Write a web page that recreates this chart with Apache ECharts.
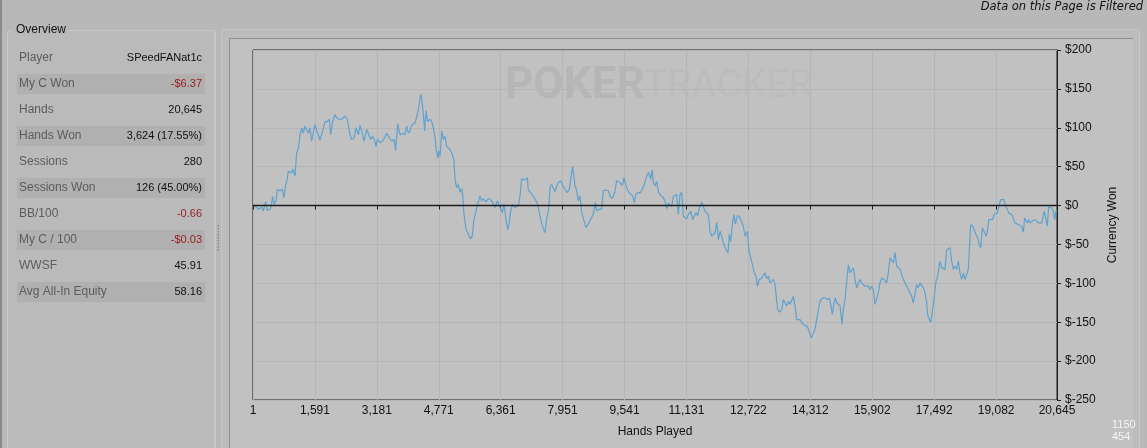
<!DOCTYPE html>
<html>
<head>
<meta charset="utf-8">
<script src="https://cdn.jsdelivr.net/npm/echarts@6/dist/echarts.min.js"></script>
<style>
html,body{margin:0;padding:0;background:#b8b8b8;}
#chart{width:1147px;height:448px;}
</style>
</head>
<body>
<div id="chart"></div>
<script>
// ---- Data ----
const hands = [
1,10,95,138,181,224,266,326,369,420,455,506,540,592,626,694,754,797,840,865,908,951,994,1020,1080,1122,1165,1208,1251,1293,1336,1379,1422,1465,1507,1550,1593,1636,1679,1721,1790,1850,1910,1961,1995,2047,2107,2149,2218,2278,2363,2423,2492,2534,2594,2646,2706,2748,2791,2851,2920,2971,3022,3074,3116,3159,3194,3262,3330,3390,3433,3502,3562,3622,3664,3716,3776,3844,3904,3947,3990,4032,4075,4118,4161,4221,4263,4306,4332,4375,4409,4443,4486,4546,4589,4631,4674,4700,4743,4768,4803,4845,4888,4931,4974,5042,5102,5145,5162,
5187,5230,5273,5316,5359,5384,5418,5470,5530,5590,5632,5675,5718,5761,5829,5872,5915,5983,6043,6103,6155,6214,6274,6326,6369,6403,6446,6497,6540,6583,6617,6668,6728,6814,6856,6899,6942,6993,7045,7070,7113,7165,7216,7267,7310,7353,7396,7456,7498,7541,7593,7627,7670,7712,7755,7798,7841,7901,7952,8012,8072,8123,8175,8209,8243,8269,8311,8354,8397,8440,8483,8551,8611,8671,8739,8791,8825,8893,8953,8996,9065,9125,9167,9227,9287,9339,9424,9484,9527,9561,9595,9655,9698,9749,9792,9835,9895,9955,10006,10049,10109,10160,10211,10246,10280,10323,
10366,10409,10452,10495,10537,10580,10623,10666,10708,10751,10794,10837,10880,10922,10965,11008,11051,11094,11136,11179,11239,11291,11333,11376,11419,11462,11522,11564,11607,11650,11693,11736,11779,11821,11864,11907,11950,11992,12035,12078,12121,12164,12198,12232,12266,12318,12352,12386,12437,12489,12540,12592,12634,12694,12737,12780,12831,12874,12917,12951,13002,13062,13105,13148,13191,13233,13276,13319,13362,13405,13447,13473,13516,13576,13619,13661,13704,13747,13790,13833,13875,13918,13961,14004,14047,14089,14132,14175,14218,14261,14303,14338,14389,14432,14475,14517,14560,14629,14688,14748,14800,14834,14877,14920,14954,14988,15031,15074,15125,15159,15202,15245,15288,15330,15373,15416,15459,
15501,15544,15587,15630,15672,15715,15758,15801,15844,15886,15929,15972,16015,16058,16100,16143,16186,16229,16271,16314,16357,16400,16443,16485,16528,16571,16614,16657,16699,16742,16785,16828,16871,16913,16956,16999,17042,17085,17127,17170,17213,17256,17299,17324,17367,17401,17436,17470,17495,17538,17572,17607,17641,17684,17727,17769,17812,17855,17898,17940,17983,18026,18069,18112,18154,18197,18240,18283,18326,18368,18394,18428,18480,18531,18565,18608,18651,18685,18728,18771,18822,18856,18891,18942,18993,19028,19079,19113,19147,19164,19199,19233,19284,19318,19353,19404,19438,19481,19524,19567,19610,19652,19695,19738,19781,19815,19849,19883,19918,19952,19995,20037,20089,20140,20174,20209,20252,20294,20320,20363,20397,20431,20466,20508,20551,20585,20620,20645
];
const won = [
0,-1,-2,-5,-6.5,-2,-7,5,-6.5,-8.6,-4,12,1,6.4,20.5,19,21,10,27,30,44,46,42,47,38,68,73,91,100,93,102,104,93,100,83,85,104,96,91,84,96,108,108,111,91,108,117,113,110.6,111,115,110.6,91,85,87,100,91,103,96,83,98,96,85,89,85,76,85,81,83,88,93,87,83,85,71,105,91,93,91,102,93,96,103,101,106,117,128,143,138,117,96,122,108,111,108,100,89,74,61,70,63,96,85,89,76,73,68,70,58,
34,23,27,17,22,14.6,-11,-30,-37,-43,-39,-17.6,-19.7,0,12.4,6,9,4.7,9,8,3.9,-2.6,6,0,1.7,-9,1.7,-17.6,-31,-22,-7,1.7,-2.6,0,12,34,36,33,36,20,19,14.6,12.4,6,1.7,-9,-19.7,-30,-34.7,-17.6,-4.7,23,27,25,17.6,25,29.6,31.7,26,21,16.7,21,40,50,36,26,19,6,12.4,-9,-8,-28,-24,-17.6,-11,3.9,-7,-4.7,-4.7,19,20,19,12.4,9,16.7,31.7,29.6,26,36,38,23,16.7,19,12.4,3.9,14.6,16.7,16.7,19,27,38,42.4,34,46,29.6,25,
31,18,14,16,10,5.6,-4,3.4,5.6,-1.7,12,14,14,-11.6,14,17,-13.7,-15.9,-17,-11.6,-7.3,-18,-20,-9.4,-12.9,-3,4.3,-0.9,-7.3,-5,-11.6,-33,-39.4,-37,-35,-22,-43.7,-33,-39.4,-48,-54,-54,-61,-37,-46,-20,-11.6,-24,-13.7,-13.7,-11.6,-26.6,-39.4,-33,-58.7,-67,-67,-86.6,-90.9,-103.7,-95,-93,-90.9,-86.6,-94,-90.9,-99.4,-97,-95,-101.6,-99.4,-133.7,-137,-133.7,-120.9,-125,-129,-123,-127,-125,-116.6,-129,-146.6,-148.7,-146.6,-146.6,-153,-151,-155,-158.6,-166,-170,-163.7,-159,-159,-133.7,-123,-118.7,-118.7,-121,-118.7,-127,-140,-125,-118.7,-125,-127,-129,-153,-133.7,-121,-118.7,-75.9,-86.6,-84.4,-80,-95,
-105.9,-108,-95,-99.4,-101.6,-103.7,-105.9,-103.7,-108,-103.7,-108,-127,-129.4,-112,-99.4,-93,-93,-96,-99.4,-86.6,-67.3,-65,-73.7,-60,-78,-75.9,-82,-84.4,-95,-93,-103.7,-108,-110,-116.6,-125,-125,-101.6,-105.9,-99.4,-101.6,-105.9,-112,-125,-141,-146.6,-150,-140,-142,-116.6,-97.3,-93,-93,-71.6,-80,-82,-82,-56.6,-58.7,-54.4,-71.6,-82,-78,-82,-71.6,-86.6,-95,-86.6,-95,-88.7,-82,-82,-24.4,-26.6,-24.4,-37.3,-41.6,-50,-54.4,-28.7,-33,-39.4,-35,-18,-18,-18,-11.6,-11.6,-9.4,-11.6,1.3,7.7,5.6,7.7,1.3,-0.9,-9.4,-7.3,-11.6,-13.7,-22.3,-23.6,-24.4,-25.7,-26.6,-34.3,-15.9,-18,-22.3,-18,-22.3,-20,-18.9,-18,-17,-22.3,-24.4,-22.3,-22.3,-7.3,-9.4,-26.6,-1.7,-0.9,-3,-7.3,-18,-7.3,-6.37
];
const xTicks = [1,1591,3181,4771,6361,7951,9541,11131,12722,14312,15902,17492,19082,20645];
const yMin = -250, yMax = 200, yStep = 50;

const statLabels = ['Player','My C Won','Hands','Hands Won','Sessions','Sessions Won','BB/100','My C / 100','WWSF','Avg All-In Equity'];
const statValues = ['SPeedFANat1c','-$6.37','20,645','3,624 (17.55%)','280','126 (45.00%)','-0.66','-$0.03','45.91','58.16'];

// ---- Chart ----
const chart = echarts.init(document.getElementById('chart'));
const seriesData = hands.map((h, i) => [h, won[i]]);

const FONT = 'Liberation Sans, Arial, sans-serif';
function txt(text, x, y, fill, font, align, z) {
  return {type:'text', z: z, style:{text:text, x:x, y:y, fill:fill, font:font, align:align, verticalAlign:'middle', textAlign:align, textVerticalAlign:'middle'}};
}
const g = [];
// page chrome
g.push({type:'rect', z:-30, shape:{x:0,y:0,width:1147,height:448}, style:{fill:'#b8b8b8'}});
g.push({type:'rect', z:-29, shape:{x:0,y:0,width:2,height:448}, style:{fill:'#8a8a8a'}});
// overview group box
g.push({type:'rect', z:-28, shape:{x:7.5,y:30.5,width:207,height:430,r:3}, style:{fill:'#bababa', stroke:'#c8c8c8', lineWidth:1}});
g.push({type:'rect', z:-27, shape:{x:13,y:24,width:54,height:12}, style:{fill:'#b9b9b9'}});
g.push(txt('Overview', 16, 30, '#111', '12px ' + FONT, 'left', -26));
statLabels.forEach((lab, i) => {
  const cy = 58 + i * 26;
  if (i % 2 === 1) {
    g.push({type:'rect', z:-27, shape:{x:17,y:cy-10,width:188,height:20}, style:{fill:'#b0b0b0'}});
  }
  g.push(txt(lab, 19, cy, '#5c5c5c', '12px ' + FONT, 'left', -26));
  const v = statValues[i];
  const neg = v.charAt(0) === '-';
  g.push(txt(v, 202, cy, neg ? '#9a1c1c' : '#111', '11px ' + FONT, 'right', -26));
});
// divider and grip
g.push({type:'rect', z:-28, shape:{x:215,y:30,width:1,height:418}, style:{fill:'#c6c6c6'}});
for (let k = 0; k < 9; k++) {
  g.push({type:'rect', z:-26, shape:{x:217.5,y:225 + k*3,width:1.5,height:1.5}, style:{fill:'#8a8a8a'}});
}
// chart panels
g.push({type:'rect', z:-28, shape:{x:221.5,y:29.5,width:918,height:430,r:3}, style:{fill:'#bcbcbc', stroke:'#c8c8c8', lineWidth:1}});
g.push({type:'rect', z:-27, shape:{x:229,y:38,width:904,height:420}, style:{fill:'#c1c1c1'}});
g.push({type:'line', z:-26, shape:{x1:229.5,y1:38.5,x2:1133,y2:38.5}, style:{stroke:'#8e8e8e', lineWidth:1}});
g.push({type:'line', z:-26, shape:{x1:229.5,y1:38.5,x2:229.5,y2:448}, style:{stroke:'#8e8e8e', lineWidth:1}});
// watermark
g.push(txt('POKER', 505, 87, '#b6b6b6', 'bold 44px Roboto, ' + FONT, 'left', -20));
g.push(txt('TRACKER', 644, 87, '#bcbcbc', '39px Roboto, ' + FONT, 'left', -20));
// header note
g.push(txt('Data on this Page is Filtered', 1143, 7, '#111', 'italic 11.5px DejaVu Sans, sans-serif', 'right', 5));
// corner size note
g.push(txt('1150', 1112, 425, '#f4f4f4', '11px ' + FONT, 'left', 5));
g.push(txt('454', 1112, 437, '#f4f4f4', '11px ' + FONT, 'left', 5));

const option = {
  animation: false,
  backgroundColor: '#b8b8b8',
  graphic: g,
  grid: {left: 253, right: 90, top: 50, bottom: 48, show: true, borderColor: '#1c1c1c', borderWidth: 1, backgroundColor: 'transparent'},
  xAxis: {
    type: 'value', min: 1, max: 20645,
    name: 'Hands Played', nameLocation: 'middle', nameGap: 26,
    nameTextStyle: {color: '#111', fontSize: 12, fontFamily: FONT},
    axisLine: {show: true, lineStyle: {color: '#1c1c1c', width: 1}},
    axisTick: {show: true, length: 4, inside: false, customValues: xTicks, lineStyle: {color: '#1c1c1c'}},
    axisLabel: {customValues: xTicks, color: '#111', fontSize: 12, fontFamily: FONT, margin: 5,
      formatter: v => Math.round(v).toLocaleString('en-US')},
    splitLine: {show: true, lineStyle: {color: '#b5b5b5', width: 1}}
  },
  yAxis: {
    type: 'value', position: 'right', min: yMin, max: yMax, interval: yStep,
    name: 'Currency Won', nameLocation: 'middle', nameGap: 47, nameRotate: 90,
    nameTextStyle: {color: '#111', fontSize: 12, fontFamily: FONT},
    axisLine: {show: true, lineStyle: {color: '#1c1c1c', width: 1}},
    axisTick: {show: true, length: 4, lineStyle: {color: '#1c1c1c'}},
    axisLabel: {color: '#111', fontSize: 12, fontFamily: FONT, margin: 8, formatter: v => '$' + v},
    splitLine: {show: true, lineStyle: {color: '#b5b5b5', width: 1}}
  },
  series: [{
    type: 'line',
    data: seriesData,
    showSymbol: false,
    symbol: 'none',
    lineStyle: {color: '#5fa2cf', width: 1.2},
    z: 3,
    markLine: {
      silent: true, symbol: 'none', label: {show: false},
      lineStyle: {color: '#1c1c1c', width: 1.3, type: 'solid'},
      data: [{yAxis: 0}]
    }
  }]
};
chart.setOption(option);
</script>
</body>
</html>
